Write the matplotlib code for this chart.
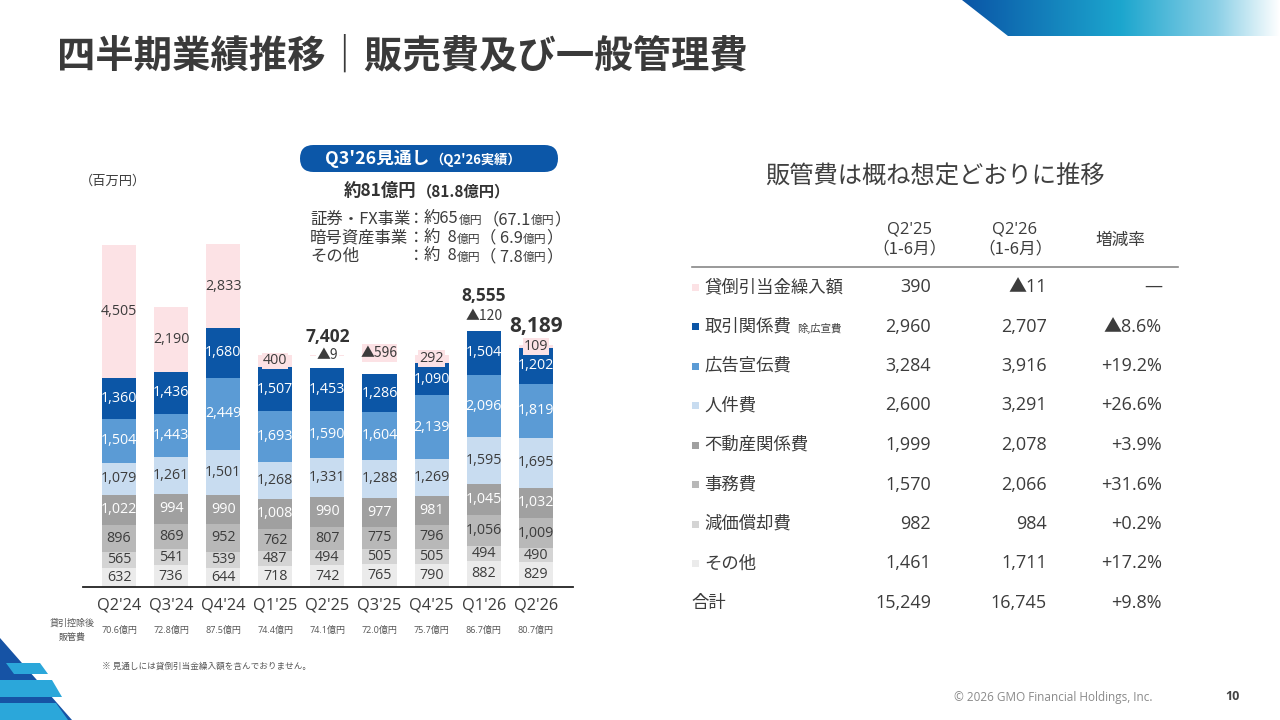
import matplotlib
matplotlib.use('Agg')
import matplotlib.pyplot as plt
import matplotlib.transforms as mtransforms
from matplotlib.patches import FancyBboxPatch, Polygon, Rectangle
from matplotlib.colors import LinearSegmentedColormap
import numpy as np

plt.rcParams['font.family'] = ['Noto Sans CJK JP', 'DejaVu Sans']
NUM = ['Open Sans', 'Noto Sans CJK JP', 'DejaVu Sans']

# ---------------- data ----------------
quarters = ["Q2'24", "Q3'24", "Q4'24", "Q1'25", "Q2'25", "Q3'25", "Q4'25", "Q1'26", "Q2'26"]
other        = [632, 736, 644, 718, 742, 765, 790, 882, 829]
depreciation = [565, 541, 539, 487, 494, 505, 505, 494, 490]
office       = [896, 869, 952, 762, 807, 775, 796, 1056, 1009]
realestate   = [1022, 994, 990, 1008, 990, 977, 981, 1045, 1032]
personnel    = [1079, 1261, 1501, 1268, 1331, 1288, 1269, 1595, 1695]
advertising  = [1504, 1443, 2449, 1693, 1590, 1604, 2139, 2096, 1819]
transaction  = [1360, 1436, 1680, 1507, 1453, 1286, 1090, 1504, 1202]
provision    = [4505, 2190, 2833, 400, -9, -596, 292, -120, 109]
sga_net      = ["70.6億円", "72.8億円", "87.5億円", "74.4億円", "74.1億円",
                "72.0億円", "75.7億円", "86.7億円", "80.7億円"]
total_labels = ["", "", "", "", "7,402", "", "", "8,555", "8,189"]

table_items = ["貸倒引当金繰入額", "取引関係費", "広告宣伝費", "人件費",
               "不動産関係費", "事務費", "減価償却費", "その他"]
table_q225 = ["390", "2,960", "3,284", "2,600", "1,999", "1,570", "982", "1,461"]
table_q226 = ["▲11", "2,707", "3,916", "3,291", "2,078", "2,066", "984", "1,711"]
table_rate = ["―", "▲8.6%", "+19.2%", "+26.6%", "+3.9%", "+31.6%", "+0.2%", "+17.2%"]
total_row = ["合計", "15,249", "16,745", "+9.8%"]

# ---------------- styles ----------------
W, H = 1280, 720
DARK = '#3C3C3C'
c_prov = '#FCE2E5'
c_trans = '#0C56A6'
c_adv = '#5B9BD5'
c_pers = '#C8DCF0'
c_real = '#A0A0A0'
c_office = '#B8B8B8'
c_dep = '#D4D4D4'
c_other = '#EBEBEB'
total_fs = [12, 12, 12, 12, 12.5, 12, 12, 12.5, 15]
LBL = 10.3

fig = plt.figure(figsize=(12.8, 7.2), dpi=100)
axp = fig.add_axes([0, 0, 1, 1])
axp.set_axis_off()
axp.patch.set_visible(False)

# top-right gradient band
grad = np.linspace(0, 1, 512).reshape(1, -1)
cmap = LinearSegmentedColormap.from_list('g', [(0, '#0A55A6'), (0.5, '#1CA6CE'), (0.8, '#8ACFE6'), (1, '#FFFFFF')])
im = axp.imshow(grad, extent=[962, 1280, 36, 0], cmap=cmap, aspect='auto', zorder=1)
clip = Polygon([(962, 0), (1280, 0), (1280, 36), (1008, 36)], closed=True,
               facecolor='none', edgecolor='none', transform=axp.transData)
axp.add_patch(clip)
im.set_clip_path(clip)

# bottom-left decoration
axp.add_patch(Polygon([(0, 638), (0, 720), (72, 720)], closed=True, fc='#1653A5', ec='none'))
axp.add_patch(Polygon([(6, 663), (40, 663), (48, 674), (14, 674)], closed=True, fc='#2BA7DA', ec='none'))
axp.add_patch(Polygon([(0, 680), (52, 680), (62, 697), (0, 697)], closed=True, fc='#2BA7DA', ec='none'))
axp.add_patch(Polygon([(0, 703), (56, 703), (68, 720), (0, 720)], closed=True, fc='#2BA7DA', ec='none'))

# title
axp.text(57, 56, "四半期業績推移｜販売費及び一般管理費", fontsize=27.6, fontweight='bold',
         color='#3A3A3A', ha='left', va='center')

renderer = fig.canvas.get_renderer()


def put_pieces(x, y, parts, ha='left', color=DARK):
    objs = []
    cx = x
    for s, fs, fw in parts:
        t = axp.text(cx, y, s, fontsize=fs, fontweight=fw, color=color, ha='left', va='baseline')
        w = t.get_window_extent(renderer).width
        objs.append(t)
        cx += w
    total = cx - x
    if ha == 'center':
        for t in objs:
            px, py = t.get_position()
            t.set_position((px - total / 2, py))
    return total


# callout
axp.add_patch(FancyBboxPatch((300, 145), 258, 27, boxstyle="round,pad=0,rounding_size=13.5",
                             fc='#0C57A8', ec='none'))
put_pieces(423, 164, [("Q3'26見通し", 12.8, 'bold'), ("（Q2'26実績）", 9.5, 'bold')],
           ha='center', color='white')
put_pieces(427, 196, [("約81億円", 12.5, 'bold'), ("（81.8億円）", 11, 'bold')],
           ha='center', color='#333333')
seg_lines = [("証券・FX事業", "約65", "（67.1"), ("暗号資産事業", "約  8", "（ 6.9"), ("その他", "約  8", "（ 7.8")]
for k, (lab, a, b) in enumerate(seg_lines):
    yb = 224 + k * 18.5
    axp.text(310, yb, lab, fontsize=11.8, color=DARK, ha='left', va='baseline')
    axp.text(408, yb, "：", fontsize=11.8, color=DARK, ha='left', va='baseline')
    put_pieces(424, yb, [(a, 11.8, 'normal'), ("億円", 8.5, 'normal'), (b, 11.8, 'normal'),
                         ("億円", 8.5, 'normal'), ("）", 11.8, 'normal')])

axp.text(80, 181, "（百万円）", fontsize=9.5, color=DARK, ha='left', va='center')

# ---------------- bar chart ----------------
ax = fig.add_axes([83 / W, 1 - 587 / H, (573 - 83) / W, 414 / H])
ax.set_xlim(-0.691, 8.714)
ax.set_ylim(0, 14000)
ax.set_axis_off()
ax.patch.set_visible(False)

n = len(quarters)
x = np.arange(n)
bw = 0.653
layers = [(other, c_other, DARK), (depreciation, c_dep, DARK), (office, c_office, DARK),
          (realestate, c_real, 'white'), (personnel, c_pers, DARK),
          (advertising, c_adv, 'white'), (transaction, c_trans, 'white')]
bottom = np.zeros(n)
for vals, col, tc in layers:
    v = np.array(vals, float)
    ax.bar(x, v, bw, bottom=bottom, color=col, lw=0, zorder=2)
    for i in range(n):
        ax.text(x[i], bottom[i] + v[i] / 2, f"{vals[i]:,}", ha='center', va='center',
                fontsize=LBL, color=tc, zorder=3, family=NUM)
    bottom += v

gap = 420
tops = np.zeros(n)
for i in range(n):
    p = provision[i]
    if p >= 0:
        ax.bar(x[i], p, bw, bottom=bottom[i], color=c_prov, lw=0, zorder=2)
        bb = dict(fc=c_prov, ec='none', pad=0.6) if p < 600 else None
        ax.text(x[i], bottom[i] + p / 2, f"{p:,}", ha='center', va='center', fontsize=LBL,
                color=DARK, zorder=4, bbox=bb, family=NUM)
        tops[i] = bottom[i] + p
    else:
        b0 = bottom[i] + gap
        ax.bar(x[i], -p, bw, bottom=b0, color=c_prov, lw=0, zorder=2)
        bb = dict(fc='white', ec='none', pad=0.4) if -p < 300 else None
        ax.text(x[i], b0 - p / 2, f"▲{-p:,}", ha='center', va='center', fontsize=LBL - 0.3,
                color=DARK, zorder=4, bbox=bb, family=['Noto Sans CJK JP', 'DejaVu Sans'])
        tops[i] = b0 - p

for i, lab in enumerate(total_labels):
    if lab:
        ax.annotate(lab, (x[i], tops[i]), xytext=(0, 13.5), textcoords='offset points',
                    ha='center', va='center', fontsize=total_fs[i], fontweight='bold',
                    color='#333333', zorder=5, family=NUM)

ax.axhline(0, color='#222222', lw=1.3, zorder=3, clip_on=False)

tr = mtransforms.blended_transform_factory(ax.transData, axp.transData)
for i in range(n):
    axp.text(x[i], 605, quarters[i], transform=tr, ha='center', va='center', fontsize=11.8,
             color=DARK, family=NUM)
    axp.text(x[i], 630, sga_net[i], transform=tr, ha='center', va='center', fontsize=6.5,
             color='#555555', family=NUM)
axp.text(72, 623, "貸引控除後", ha='center', va='center', fontsize=6.5, color='#555555')
axp.text(72, 637, "販管費", ha='center', va='center', fontsize=6.5, color='#555555')
axp.text(102, 666, "※ 見通しには貸倒引当金繰入額を含んでおりません。", ha='left', va='center',
         fontsize=6.2, color='#555555')

# ---------------- right table ----------------
axp.text(935, 177, "販管費は概ね想定どおりに推移", ha='center', va='center', fontsize=17.5, color='#404040')
axp.text(910, 229, "Q2'25", ha='center', va='center', fontsize=12, color=DARK, family=NUM)
axp.text(910, 249, "（1-6月）", ha='center', va='center', fontsize=12, color=DARK)
axp.text(1015, 229, "Q2'26", ha='center', va='center', fontsize=12, color=DARK, family=NUM)
axp.text(1015, 249, "（1-6月）", ha='center', va='center', fontsize=12, color=DARK)
axp.text(1120, 240, "増減率", ha='center', va='center', fontsize=12, color=DARK)
axp.plot([692, 1178], [267, 267], color='#888888', lw=1.2)

marker_cols = [c_prov, c_trans, c_adv, c_pers, c_real, c_office, c_dep, c_other]
row_y0, row_dy = 287, 39.5
for k in range(len(table_items)):
    yy = row_y0 + k * row_dy
    axp.add_patch(Rectangle((692, yy - 3.5), 7, 7, fc=marker_cols[k], ec='none'))
    axp.text(704, yy, table_items[k], ha='left', va='center', fontsize=12.5, color=DARK)
    axp.text(931, yy, table_q225[k], ha='right', va='center', fontsize=13, color=DARK, family=NUM)
    axp.text(1047, yy, table_q226[k], ha='right', va='center', fontsize=13, color=DARK, family=NUM)
    axp.text(1162, yy, table_rate[k], ha='right', va='center', fontsize=13, color=DARK, family=NUM)
    if k == 1:
        axp.text(797, yy + 1.5, "除,広宣費", ha='left', va='center', fontsize=7.5, color=DARK)
yt = row_y0 + len(table_items) * row_dy
axp.text(691, yt, total_row[0], ha='left', va='center', fontsize=12.5, color=DARK)
axp.text(931, yt, total_row[1], ha='right', va='center', fontsize=13, color=DARK, family=NUM)
axp.text(1047, yt, total_row[2], ha='right', va='center', fontsize=13, color=DARK, family=NUM)
axp.text(1162, yt, total_row[3], ha='right', va='center', fontsize=13, color=DARK, family=NUM)

# footer
axp.text(1153, 697, "© 2026 GMO Financial Holdings, Inc.", ha='right', va='center',
         fontsize=8.5, color='#8A8A8A', family=['Open Sans', 'DejaVu Sans'])
axp.text(1240, 697, "10", ha='right', va='center', fontsize=9, fontweight='bold', color='#444444',
         family=['Open Sans', 'DejaVu Sans'])

axp.set_xlim(0, W)
axp.set_ylim(H, 0)

fig.savefig('out.png', dpi=100)
